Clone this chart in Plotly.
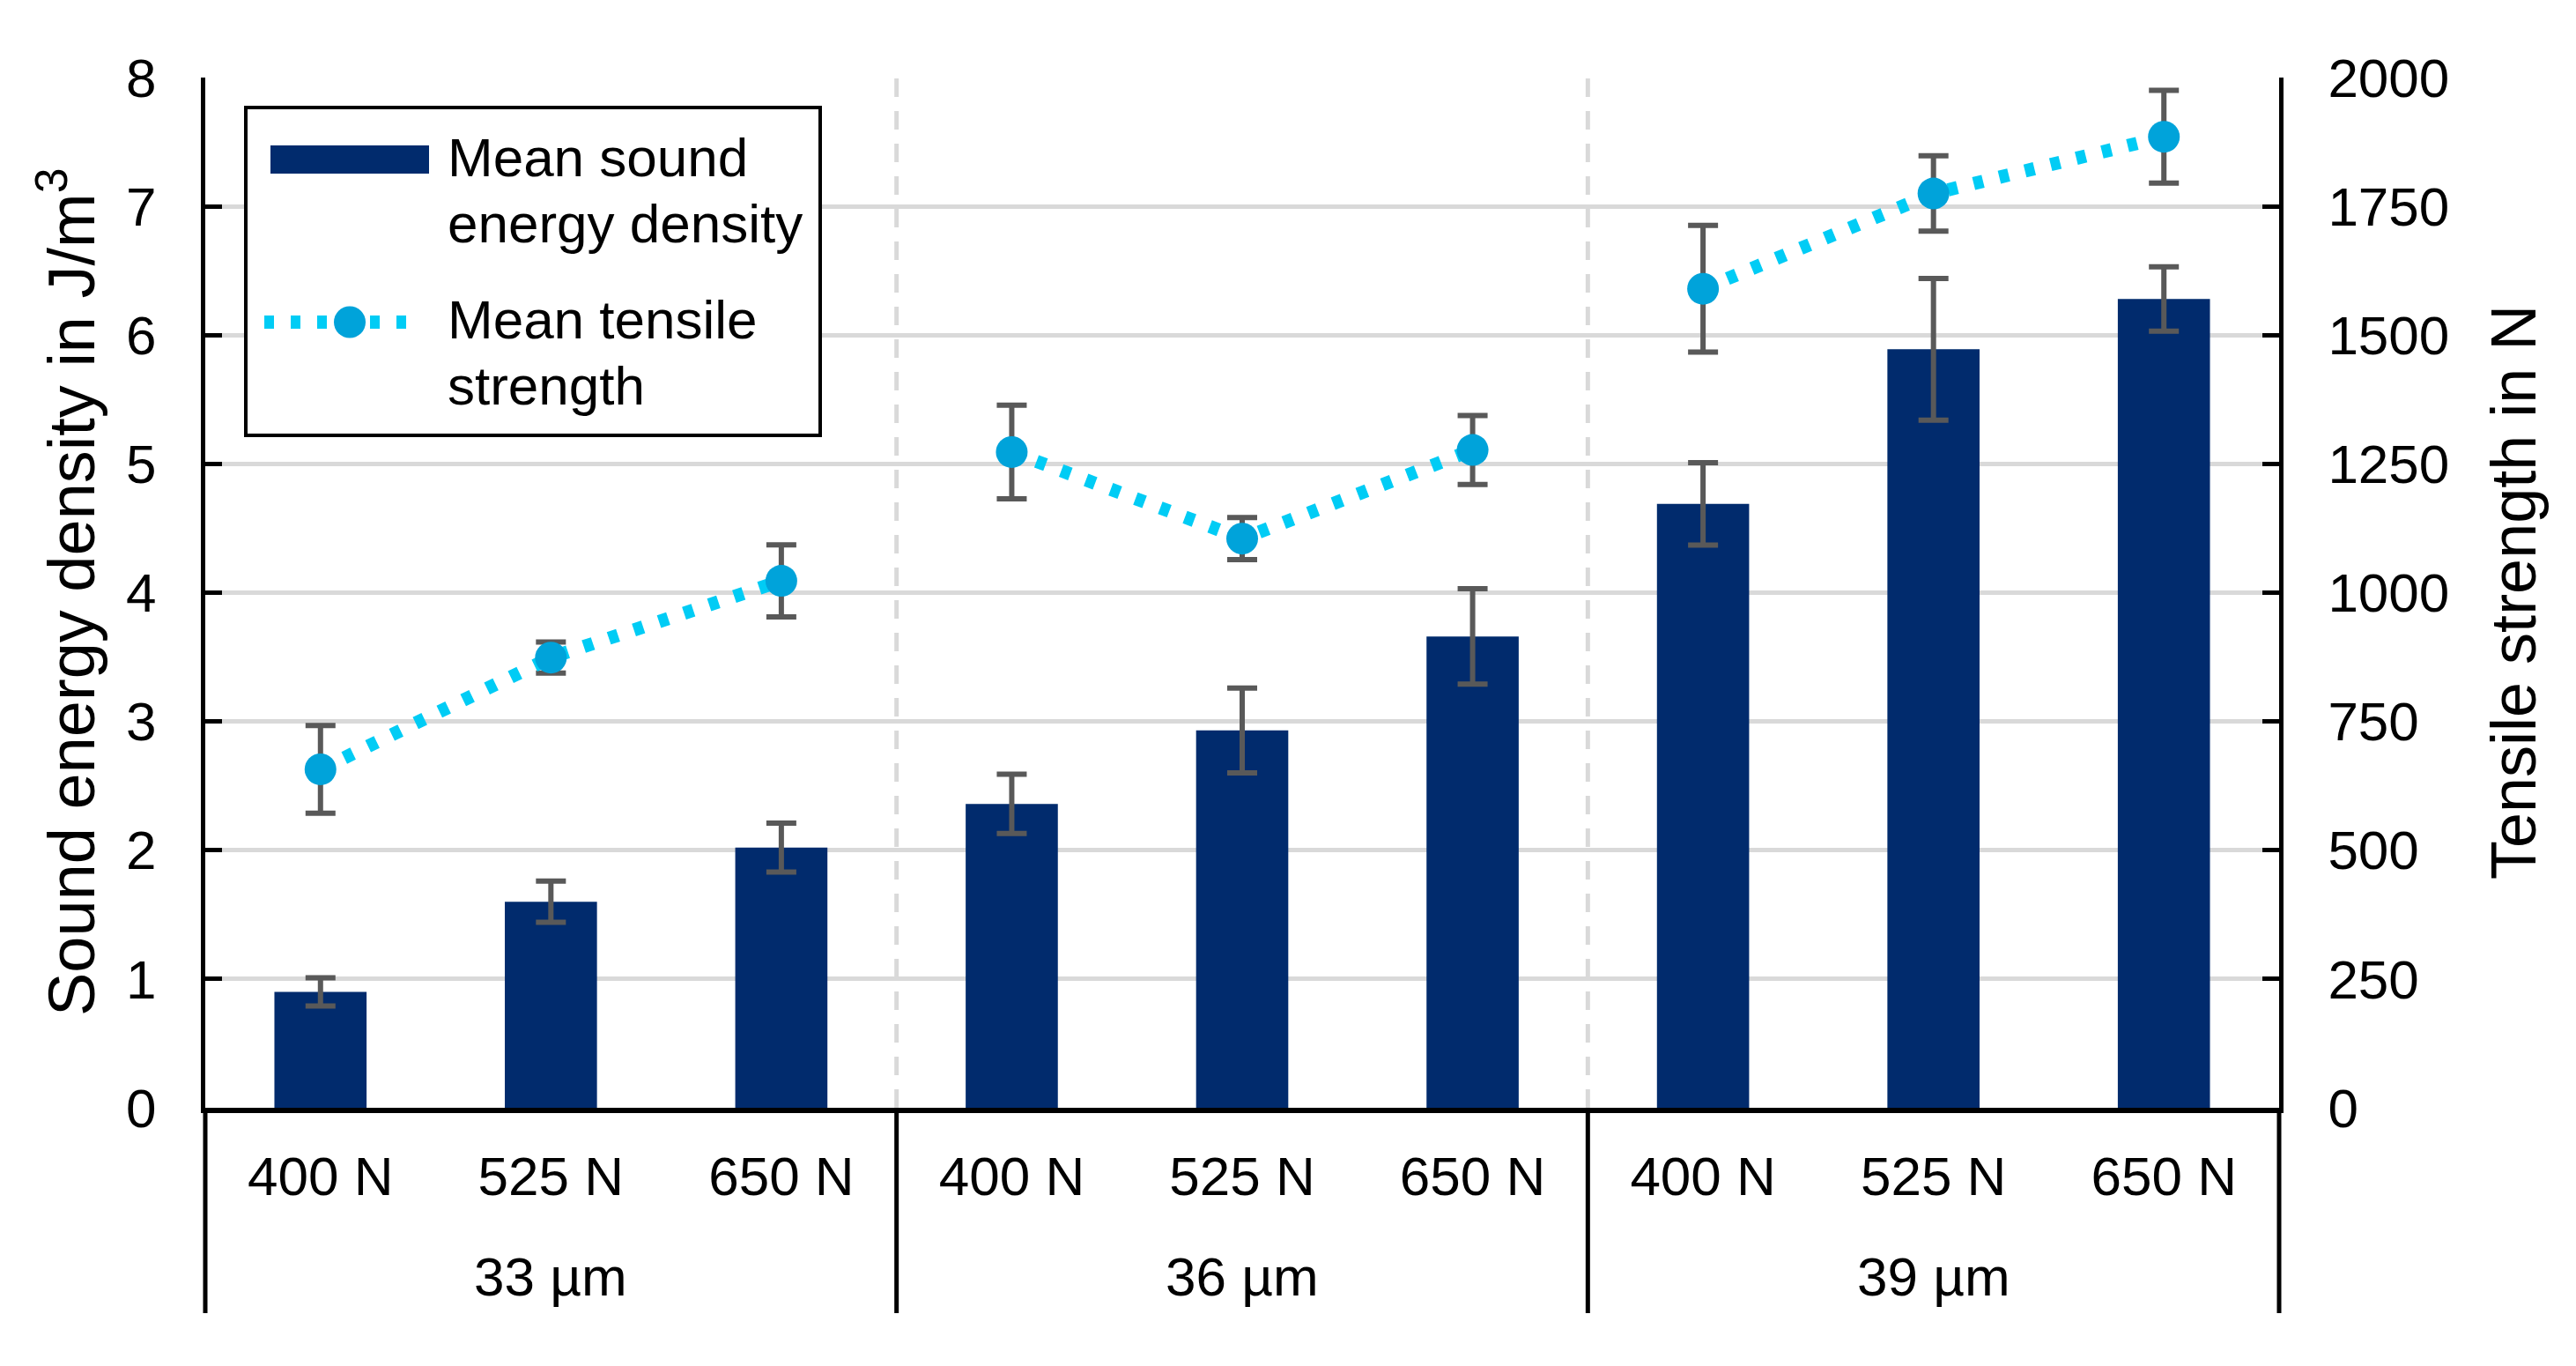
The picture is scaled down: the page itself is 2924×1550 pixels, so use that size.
import plotly.graph_objects as go

# ---------------- data ----------------
groups = ["33 µm", "36 µm", "39 µm"]
forces = ["400 N", "525 N", "650 N"]
energy_mean = [0.90, 1.60, 2.02, 2.36, 2.93, 3.66, 4.69, 5.89, 6.28]
energy_err = [0.11, 0.16, 0.19, 0.23, 0.33, 0.37, 0.32, 0.55, 0.25]
tensile_mean = [657, 874, 1023, 1273, 1105, 1277, 1590, 1775, 1885]
tensile_err = [85, 30, 70, 91, 41, 67, 123, 73, 90]
left_ticks = [0, 1, 2, 3, 4, 5, 6, 7, 8]
right_ticks = [0, 250, 500, 750, 1000, 1250, 1500, 1750, 2000]
legend_labels = ["Mean sound<br>energy density", "Mean tensile<br>strength"]
left_title = "Sound energy density in J/m<sup>3</sup>"
right_title = "Tensile strength in N"

# category positions (one per group/force combination)
tick_text = [f for g in groups for f in forces]
xpos = list(range(len(tick_text)))
n_per_group = len(forces)
n_cat = len(xpos)

# ---------------- style ----------------
W, H = 2924, 1550
PX0, PX1 = 233, 2587      # plot area left / right in px
PY_TOP, PY_BOT = 88, 1257  # plot area top / bottom in px
FONT = "Liberation Sans, Arial, sans-serif"
NAVY = "#012B6D"
DOT = "#00CCF5"
MARK = "#00A3DA"
ERR = "#595959"
GRID = "#D9D9D9"
DOT_DASH = "11px,19px"


def px(x):
    return (x - PX0) / (PX1 - PX0)


def py(y):
    return (PY_BOT - y) / (PY_BOT - PY_TOP)


fig = go.Figure()

fig.add_trace(go.Bar(
    x=xpos, y=energy_mean, name="Mean sound energy density",
    marker=dict(color=NAVY, line=dict(width=0)),
    error_y=dict(type="data", array=energy_err, visible=True,
                 color=ERR, thickness=6, width=17),
    showlegend=False,
))

# tensile strength: one connected segment per group (no line across groups)
for gi in range(len(groups)):
    sl = slice(gi * n_per_group, (gi + 1) * n_per_group)
    fig.add_trace(go.Scatter(
        x=xpos[sl], y=tensile_mean[sl], yaxis="y2", mode="lines+markers",
        name="Mean tensile strength",
        line=dict(color=DOT, width=15, dash=DOT_DASH),
        marker=dict(color=MARK, size=36, line=dict(width=0)),
        error_y=dict(type="data", array=tensile_err[sl], visible=True,
                     color=ERR, thickness=6, width=17),
        showlegend=False,
    ))

shapes = []
# dashed vertical separators inside plot
for k in range(1, len(groups)):
    xb = k * n_per_group - 0.5
    shapes.append(dict(type="line", xref="x", yref="y", x0=xb, x1=xb,
                       y0=left_ticks[0], y1=left_ticks[-1], layer="below",
                       line=dict(color=GRID, width=5, dash="21px,16px")))
# solid separators in the category label area
for k in range(len(groups) + 1):
    xb = k * n_per_group / n_cat
    shapes.append(dict(type="line", xref="paper", yref="paper", x0=xb, x1=xb,
                       y0=0, y1=py(1490), layer="above",
                       line=dict(color="black", width=5)))

# custom legend
shapes.append(dict(type="rect", xref="paper", yref="paper",
                   x0=px(279), x1=px(931), y0=py(494), y1=py(122),
                   line=dict(color="black", width=4), fillcolor="white",
                   layer="above"))
shapes.append(dict(type="rect", xref="paper", yref="paper",
                   x0=px(307), x1=px(487), y0=py(197), y1=py(165),
                   line=dict(width=0), fillcolor=NAVY, layer="above"))
shapes.append(dict(type="line", xref="paper", yref="paper",
                   x0=px(300), x1=px(478), y0=py(365.5), y1=py(365.5),
                   line=dict(color=DOT, width=15, dash=DOT_DASH),
                   layer="above"))
shapes.append(dict(type="circle", xref="paper", yref="paper",
                   x0=px(379), x1=px(415), y0=py(383.5), y1=py(347.5),
                   line=dict(width=0), fillcolor=MARK, layer="above"))

annotations = []
leg_lines = []
for lab in legend_labels:
    leg_lines.extend(lab.split("<br>"))
leg_y = [179, 253.5, 362.5, 437]
for txt, yy in zip(leg_lines, leg_y):
    annotations.append(dict(text=txt, xref="paper", yref="paper",
                            x=px(506), y=py(yy), xanchor="left",
                            yanchor="middle", showarrow=False,
                            font=dict(family=FONT, size=62, color="black")))

# group labels
for gi, g in enumerate(groups):
    xc = gi * n_per_group + (n_per_group - 1) / 2
    annotations.append(dict(text=g, xref="x", yref="paper", x=xc,
                            y=py(1448), xanchor="center", yanchor="middle",
                            showarrow=False,
                            font=dict(family=FONT, size=62, color="black")))

# axis titles
annotations.append(dict(text=left_title, xref="paper", yref="paper",
                        x=px(76), y=py(672), textangle=-90,
                        xanchor="center", yanchor="middle", showarrow=False,
                        font=dict(family=FONT, size=74, color="black")))
annotations.append(dict(text=right_title, xref="paper", yref="paper",
                        x=px(2853), y=py(672), textangle=-90,
                        xanchor="center", yanchor="middle", showarrow=False,
                        font=dict(family=FONT, size=72, color="black")))

fig.update_layout(
    width=W, height=H, autosize=False,
    margin=dict(l=PX0, r=W - PX1, t=PY_TOP, b=H - PY_BOT, pad=0),
    paper_bgcolor="white", plot_bgcolor="white",
    bargap=0.6, showlegend=False,
    font=dict(family=FONT, size=62, color="black"),
    xaxis=dict(range=[-0.5, n_cat - 0.5], tickvals=xpos,
               ticktext=tick_text, ticks="", showgrid=False, zeroline=False,
               showline=True, linecolor="black", linewidth=6,
               tickfont=dict(family=FONT, size=62, color="black"),
               ticklabelstandoff=19, automargin=False, fixedrange=True),
    yaxis=dict(range=[left_ticks[0], left_ticks[-1]], tickvals=left_ticks,
               showgrid=True, gridcolor=GRID, gridwidth=5, zeroline=False,
               showline=True, linecolor="black", linewidth=5,
               ticks="inside", ticklen=19, tickwidth=5, tickcolor="black",
               tickfont=dict(family=FONT, size=62, color="black"),
               ticklabelstandoff=38, automargin=False),
    yaxis2=dict(range=[right_ticks[0], right_ticks[-1]], tickvals=right_ticks,
                overlaying="y", side="right", anchor="x",
                showgrid=False, zeroline=False,
                showline=True, linecolor="black", linewidth=5,
                ticks="inside", ticklen=19, tickwidth=5, tickcolor="black",
                tickfont=dict(family=FONT, size=62, color="black"),
                ticklabelstandoff=38, automargin=False),
    shapes=shapes, annotations=annotations,
)

fig.write_html("out.html")
